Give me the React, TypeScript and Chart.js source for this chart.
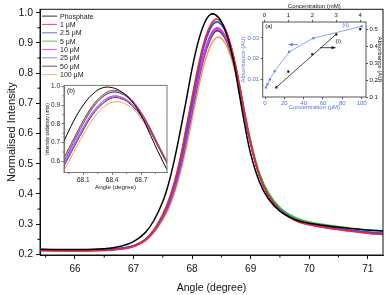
import React, { useEffect, useRef } from 'react';
import { Chart, registerables } from 'chart.js';
Chart.register(...registerables);

const FONT = '"Liberation Sans", Arial, Helvetica, sans-serif';
Chart.defaults.font.family = FONT;

// ---------- main chart data ----------
const angles = [65.4, 66, 66.5, 66.8, 67, 67.2, 67.35, 67.5, 67.6, 67.7, 67.8, 67.9, 68, 68.1, 68.2, 68.3, 68.4, 68.5, 68.6, 68.7, 68.8, 68.9, 69, 69.15, 69.3, 69.5, 69.75, 70, 70.5, 71, 71.26];
const phosphate = [0.217, 0.216, 0.219, 0.228, 0.242, 0.272, 0.313, 0.375, 0.435, 0.515, 0.61, 0.71, 0.815, 0.9, 0.96, 0.992, 0.993, 0.97, 0.922, 0.847, 0.738, 0.628, 0.533, 0.44, 0.385, 0.343, 0.316, 0.303, 0.29, 0.281, 0.278];
const c1uM = [0.212, 0.211, 0.213, 0.218, 0.226, 0.248, 0.281, 0.332, 0.378, 0.44, 0.52, 0.62, 0.72, 0.818, 0.9, 0.953, 0.978, 0.968, 0.93, 0.862, 0.77, 0.665, 0.57, 0.46, 0.395, 0.345, 0.313, 0.298, 0.282, 0.27, 0.266];
const c2_5uM = [0.216, 0.215, 0.217, 0.221, 0.229, 0.249, 0.28, 0.328, 0.371, 0.43, 0.505, 0.6, 0.702, 0.8, 0.885, 0.942, 0.968, 0.96, 0.924, 0.858, 0.766, 0.662, 0.568, 0.46, 0.396, 0.347, 0.316, 0.301, 0.286, 0.274, 0.27];
const c5uM = [0.214, 0.213, 0.215, 0.22, 0.228, 0.25, 0.283, 0.333, 0.378, 0.438, 0.517, 0.615, 0.715, 0.812, 0.893, 0.946, 0.97, 0.962, 0.926, 0.862, 0.772, 0.67, 0.577, 0.47, 0.405, 0.355, 0.323, 0.307, 0.292, 0.28, 0.276];
const c10uM = [0.213, 0.212, 0.214, 0.219, 0.227, 0.247, 0.278, 0.325, 0.366, 0.423, 0.497, 0.588, 0.687, 0.782, 0.864, 0.92, 0.948, 0.942, 0.908, 0.846, 0.76, 0.66, 0.567, 0.46, 0.396, 0.346, 0.314, 0.298, 0.282, 0.27, 0.266];
const c25uM = [0.215, 0.214, 0.216, 0.22, 0.228, 0.247, 0.277, 0.323, 0.363, 0.419, 0.491, 0.58, 0.678, 0.773, 0.856, 0.912, 0.943, 0.938, 0.905, 0.844, 0.759, 0.66, 0.568, 0.462, 0.398, 0.349, 0.317, 0.301, 0.285, 0.273, 0.269];
const c50uM = [0.214, 0.213, 0.215, 0.22, 0.228, 0.247, 0.277, 0.322, 0.361, 0.416, 0.487, 0.575, 0.672, 0.767, 0.85, 0.906, 0.938, 0.933, 0.9, 0.841, 0.757, 0.659, 0.567, 0.462, 0.398, 0.349, 0.317, 0.301, 0.285, 0.273, 0.269];
const c100uM = [0.214, 0.213, 0.215, 0.219, 0.226, 0.244, 0.272, 0.315, 0.352, 0.404, 0.472, 0.553, 0.648, 0.742, 0.825, 0.884, 0.915, 0.914, 0.886, 0.83, 0.75, 0.655, 0.565, 0.462, 0.398, 0.349, 0.317, 0.3, 0.284, 0.272, 0.268];

const seriesLabels = ['Phosphate', '1 μM', '2.5 μM', '5 μM', '10 μM', '25 μM', '50 μM', '100 μM'];
const seriesValues = [phosphate, c1uM, c2_5uM, c5uM, c10uM, c25uM, c50uM, c100uM];
const seriesColors = ['#000000', '#ff1e2a', '#2f4dff', '#22c22a', '#e02ee0', '#7272ea', '#7a1646', '#ff9a52'];

const mainXTicks = [66, 67, 68, 69, 70, 71];
const mainXMinor = [65.5, 66.5, 67.5, 68.5, 69.5, 70.5];
const mainYTicks = [0.2, 0.3, 0.4, 0.5, 0.6, 0.7, 0.8, 0.9, 1.0];
const mainYMinor = [0.25, 0.35, 0.45, 0.55, 0.65, 0.75, 0.85, 0.95];

// ---------- inset (b) ticks ----------
const insetBXTicks = [68.1, 68.4, 68.7];
const insetBXMinor = [67.95, 68.25, 68.55, 68.85];
const insetBYTicks = [0.6, 0.7, 0.8, 0.9, 1.0];
const insetBYMinor = [0.65, 0.75, 0.85, 0.95];

// ---------- inset (a) data ----------
const concUM = [1, 2.5, 5, 10, 25, 50, 100];
const absorbanceUM = [0.0062, 0.0076, 0.01, 0.014, 0.0233, 0.0299, 0.0356];
const concMM = [0.5, 1, 2, 3, 4];
const absorbanceMM = [0.157, 0.25, 0.353, 0.471, 0.502];
const fitMM = [0.5, 3];
const fitAbs = [0.157, 0.472];
const insetAUMTicks = [0, 20, 40, 60, 80, 100];
const insetAMMTicks = [0, 1, 2, 3, 4];
const insetALeftTicks = [0.01, 0.02, 0.03];
const insetARightTicks = [0.1, 0.2, 0.3, 0.4, 0.5];

const BLUE_TEXT = '#4f74e6';
const BLUE_LINE = '#8aa6f6';

const setTicks = (arr: number[]) => (s: any) => {
  s.ticks = arr.map((v) => ({ value: v }));
};

const framePlugin = {
  id: 'frame',
  afterDraw(chart: any, _a: any, opts: any) {
    const { ctx, chartArea } = chart;
    ctx.save();
    ctx.strokeStyle = opts.color || '#000';
    ctx.lineWidth = opts.width || 1;
    ctx.strokeRect(chartArea.left, chartArea.top, chartArea.right - chartArea.left, chartArea.bottom - chartArea.top);
    ctx.restore();
  },
};

const minorPlugin = {
  id: 'minorTicks',
  afterDraw(chart: any, _a: any, opts: any) {
    const { ctx, chartArea } = chart;
    ctx.save();
    ctx.strokeStyle = opts.color || '#000';
    ctx.lineWidth = 1;
    (opts.items || []).forEach((it: any) => {
      const scale = chart.scales[it.axis];
      it.values.forEach((v: number) => {
        const p = scale.getPixelForValue(v);
        ctx.beginPath();
        if (it.axis.startsWith('x')) {
          ctx.moveTo(p, chartArea.bottom);
          ctx.lineTo(p, chartArea.bottom + it.len);
        } else {
          ctx.moveTo(chartArea.left, p);
          ctx.lineTo(chartArea.left - it.len, p);
        }
        ctx.stroke();
      });
    });
    ctx.restore();
  },
};

const legendPlugin = {
  id: 'insideLegend',
  afterDraw(chart: any) {
    const { ctx, chartArea } = chart;
    ctx.save();
    ctx.font = `7px ${FONT}`;
    ctx.textBaseline = 'middle';
    chart.data.datasets.forEach((ds: any, i: number) => {
      const y = chartArea.top + 6.8 + i * 8.35;
      const x = chartArea.left + 2;
      ctx.strokeStyle = ds.borderColor;
      ctx.globalAlpha = 0.75;
      ctx.lineWidth = 1.1;
      ctx.beginPath();
      ctx.moveTo(x, y);
      ctx.lineTo(x + 15, y);
      ctx.stroke();
      ctx.globalAlpha = 1;
      ctx.fillStyle = '#1a1a1a';
      ctx.fillText(ds.label, x + 18, y + 0.5);
    });
    ctx.restore();
  },
};

const textPlugin = {
  id: 'notes',
  afterDraw(chart: any, _a: any, opts: any) {
    const { ctx } = chart;
    ctx.save();
    (opts.items || []).forEach((it: any) => {
      const x = chart.scales[it.xAxis].getPixelForValue(it.x);
      const y = chart.scales[it.yAxis].getPixelForValue(it.y);
      ctx.fillStyle = it.color;
      ctx.strokeStyle = it.color;
      if (it.text) {
        ctx.font = `${it.size || 6}px ${FONT}`;
        ctx.textBaseline = 'middle';
        ctx.textAlign = 'left';
        ctx.fillText(it.text, x, y);
      } else {
        const x2 = chart.scales[it.xAxis].getPixelForValue(it.x2);
        ctx.lineWidth = 0.8;
        ctx.beginPath();
        ctx.moveTo(x, y);
        ctx.lineTo(x2, y);
        ctx.stroke();
        const dir = x2 > x ? 1 : -1;
        ctx.beginPath();
        ctx.moveTo(x2, y);
        ctx.lineTo(x2 - dir * 4, y - 1.6);
        ctx.lineTo(x2 - dir * 4, y + 1.6);
        ctx.closePath();
        ctx.fill();
      }
    });
    ctx.restore();
  },
};

const labelPlugin = {
  id: 'cornerLabel',
  afterDraw(chart: any, _a: any, opts: any) {
    if (!opts.text) return;
    const { ctx, chartArea } = chart;
    ctx.save();
    ctx.font = `${opts.size}px ${FONT}`;
    ctx.fillStyle = '#111';
    ctx.textBaseline = 'top';
    ctx.fillText(opts.text, chartArea.left + opts.dx, chartArea.top + opts.dy);
    ctx.restore();
  },
};

function MainChart() {
  const ref = useRef<HTMLCanvasElement>(null);
  useEffect(() => {
    const datasets = seriesValues.map((vals, i) => ({
      label: seriesLabels[i],
      data: angles.map((x, j) => ({ x, y: vals[j] })),
      borderColor: seriesColors[i],
      borderWidth: 1.5,
      pointRadius: 0,
      tension: 0.4,
      fill: false,
    }));
    const chart = new Chart(ref.current!, {
      type: 'line',
      data: { datasets },
      plugins: [framePlugin, minorPlugin, legendPlugin],
      options: {
        responsive: false,
        animation: false,
        events: [],
        layout: { padding: { top: 2.5, right: 4, left: 0, bottom: 0 } },
        plugins: {
          legend: { display: false },
          tooltip: { enabled: false },
          frame: { color: '#111', width: 1 },
          minorTicks: {
            items: [
              { axis: 'x', values: mainXMinor, len: 2.5 },
              { axis: 'y', values: mainYMinor, len: 2.5 },
            ],
          },
        } as any,
        scales: {
          x: {
            type: 'linear',
            min: 65.403,
            max: 71.26,
            afterBuildTicks: setTicks(mainXTicks),
            afterFit: (s: any) => { s.height = 40; },
            ticks: { autoSkip: false, maxRotation: 0, font: { size: 10 }, color: '#111', padding: 4, callback: (v: any) => String(v) },
            grid: { drawOnChartArea: false, drawTicks: true, tickLength: 4, tickColor: '#111' },
            border: { display: true, color: '#111' },
            title: { display: true, text: 'Angle (degree)', font: { size: 10.5 }, color: '#111', padding: { top: 0, bottom: 1 } },
          },
          y: {
            type: 'linear',
            min: 0.198,
            max: 1.011,
            afterBuildTicks: setTicks(mainYTicks),
            afterFit: (s: any) => { s.width = 40; },
            ticks: { autoSkip: false, font: { size: 10.5 }, color: '#111', padding: 3, callback: (v: any) => Number(v).toFixed(1) },
            grid: { drawOnChartArea: false, drawTicks: true, tickLength: 4, tickColor: '#111' },
            border: { display: true, color: '#111' },
            title: { display: true, text: 'Normalised Intensity', font: { size: 11 }, color: '#111', padding: { top: 5, bottom: 0 } },
          },
        },
      },
    } as any);
    return () => chart.destroy();
  }, []);
  return <canvas ref={ref} width={387} height={295} style={{ position: 'absolute', left: 0, top: 0, width: 387, height: 295 }} />;
}

function InsetB() {
  const ref = useRef<HTMLCanvasElement>(null);
  useEffect(() => {
    const datasets = seriesValues.map((vals, i) => ({
      label: seriesLabels[i],
      data: angles.map((x, j) => ({ x, y: vals[j] })),
      borderColor: seriesColors[i],
      borderWidth: 1,
      pointRadius: 0,
      tension: 0.4,
      fill: false,
    }));
    const chart = new Chart(ref.current!, {
      type: 'line',
      data: { datasets },
      plugins: [framePlugin, minorPlugin, labelPlugin],
      options: {
        responsive: false,
        animation: false,
        events: [],
        layout: { padding: { top: 4, right: 5, left: 0, bottom: 0 } },
        plugins: {
          legend: { display: false },
          tooltip: { enabled: false },
          frame: { color: '#777', width: 1 },
          minorTicks: {
            color: '#777',
            items: [
              { axis: 'x', values: insetBXMinor, len: 1.5 },
              { axis: 'y', values: insetBYMinor, len: 1.5 },
            ],
          },
          cornerLabel: { text: '(b)', size: 6.5, dx: 3, dy: 3 },
        } as any,
        scales: {
          x: {
            type: 'linear',
            min: 67.9,
            max: 68.97,
            afterBuildTicks: setTicks(insetBXTicks),
            afterFit: (s: any) => { s.height = 22.5; },
            ticks: { autoSkip: false, maxRotation: 0, font: { size: 6.5 }, color: '#222', padding: 1.5, callback: (v: any) => Number(v).toFixed(1) },
            grid: { drawOnChartArea: false, drawTicks: true, tickLength: 2.5, tickColor: '#777' },
            border: { display: true, color: '#777' },
            title: { display: true, text: 'Angle (degree)', font: { size: 6.2 }, color: '#222', padding: { top: 0, bottom: 4 } },
          },
          y: {
            type: 'linear',
            min: 0.541,
            max: 1.005,
            afterBuildTicks: setTicks(insetBYTicks),
            afterFit: (s: any) => { s.width = 24; },
            ticks: { autoSkip: false, font: { size: 6.5 }, color: '#222', padding: 1.5, callback: (v: any) => Number(v).toFixed(1) },
            grid: { drawOnChartArea: false, drawTicks: true, tickLength: 2.5, tickColor: '#777' },
            border: { display: true, color: '#777' },
            title: { display: true, text: 'Intensity (arbitrary units)', font: { size: 4.8 }, color: '#222', padding: { top: 5, bottom: 0 } },
          },
        },
      },
    } as any);
    return () => chart.destroy();
  }, []);
  return <canvas ref={ref} width={132} height={115} style={{ position: 'absolute', left: 40, top: 80, width: 132, height: 115 }} />;
}

function InsetA() {
  const ref = useRef<HTMLCanvasElement>(null);
  useEffect(() => {
    const chart = new Chart(ref.current!, {
      type: 'line',
      data: {
        datasets: [
          {
            label: 'ii',
            data: concUM.map((x, i) => ({ x, y: absorbanceUM[i] })),
            xAxisID: 'x',
            yAxisID: 'y',
            borderColor: BLUE_LINE,
            backgroundColor: '#5f82ee',
            borderWidth: 1,
            pointStyle: 'rect',
            pointRadius: 1.6,
            pointBorderWidth: 0,
            tension: 0,
          },
          {
            label: 'fit',
            data: fitMM.map((x, i) => ({ x, y: fitAbs[i] })),
            xAxisID: 'x2',
            yAxisID: 'y2',
            borderColor: '#333',
            borderWidth: 0.9,
            pointRadius: 0,
          },
          {
            label: 'i',
            data: concMM.map((x, i) => ({ x, y: absorbanceMM[i] })),
            xAxisID: 'x2',
            yAxisID: 'y2',
            showLine: false,
            backgroundColor: '#111',
            borderColor: '#111',
            pointStyle: 'rect',
            pointRadius: 1.5,
            pointBorderWidth: 0,
          },
        ],
      },
      plugins: [framePlugin, textPlugin],
      options: {
        responsive: false,
        animation: false,
        events: [],
        layout: { padding: 0 },
        plugins: {
          legend: { display: false },
          tooltip: { enabled: false },
          frame: { color: '#555', width: 1 },
          notes: {
            items: [
              { text: '(a)', xAxis: 'x', yAxis: 'y', x: 0.2, y: 0.0355, color: '#111', size: 6 },
              { text: '(ii)', xAxis: 'x', yAxis: 'y', x: 80, y: 0.0362, color: BLUE_TEXT, size: 6 },
              { text: '(i)', xAxis: 'x2', yAxis: 'y2', x: 2.97, y: 0.43, color: '#111', size: 6 },
              { xAxis: 'x', yAxis: 'y', x: 34, x2: 24.5, y: 0.0268, color: BLUE_TEXT },
              { xAxis: 'x2', yAxis: 'y2', x: 2.32, x2: 2.97, y: 0.392, color: '#111' },
            ],
          },
        } as any,
        scales: {
          x: {
            type: 'linear',
            position: 'bottom',
            min: -2.4,
            max: 104.5,
            afterBuildTicks: setTicks(insetAUMTicks),
            afterFit: (s: any) => { s.height = 15; },
            ticks: { autoSkip: false, maxRotation: 0, font: { size: 6 }, color: BLUE_TEXT, padding: 1 },
            grid: { drawOnChartArea: false, drawTicks: true, tickLength: 2, tickColor: '#555' },
            border: { display: false },
            title: { display: true, text: 'Concentration (μM)', font: { size: 6 }, color: BLUE_TEXT, padding: { top: 0, bottom: 1 } },
          },
          x2: {
            type: 'linear',
            position: 'top',
            min: -0.07,
            max: 4.24,
            afterBuildTicks: setTicks(insetAMMTicks),
            afterFit: (s: any) => { s.height = 22; },
            ticks: { autoSkip: false, maxRotation: 0, font: { size: 6 }, color: '#111', padding: 1 },
            grid: { drawOnChartArea: false, drawTicks: true, tickLength: 2, tickColor: '#555' },
            border: { display: false },
            title: { display: true, text: 'Concentration (mM)', font: { size: 6 }, color: '#111', padding: { top: 2.4, bottom: 0 } },
          },
          y: {
            type: 'linear',
            position: 'left',
            min: 0.0015,
            max: 0.0377,
            afterBuildTicks: setTicks(insetALeftTicks),
            afterFit: (s: any) => { s.width = 26.7; },
            ticks: { autoSkip: false, font: { size: 6 }, color: BLUE_TEXT, padding: 1.5, callback: (v: any) => Number(v).toFixed(2) },
            grid: { drawOnChartArea: false, drawTicks: true, tickLength: 2, tickColor: '#555' },
            border: { display: false },
            title: { display: true, text: 'Absorbance (AU)', font: { size: 6 }, color: BLUE_TEXT, padding: { top: 3.7, bottom: 0 } },
          },
          y2: {
            type: 'linear',
            position: 'right',
            min: 0.1,
            max: 0.544,
            afterBuildTicks: setTicks(insetARightTicks),
            afterFit: (s: any) => { s.width = 21; },
            ticks: { autoSkip: false, font: { size: 6 }, color: '#111', padding: 1.5, callback: (v: any) => Number(v).toFixed(1) },
            grid: { drawOnChartArea: false, drawTicks: true, tickLength: 2, tickColor: '#555' },
            border: { display: false },
            title: { display: true, text: 'Absorbance (AU)', font: { size: 6 }, color: '#111', padding: { top: 3.4, bottom: 0 } },
          },
        },
      },
    } as any);
    return () => chart.destroy();
  }, []);
  return <canvas ref={ref} width={151} height={112} style={{ position: 'absolute', left: 236, top: 0, width: 151, height: 112 }} />;
}

export default function App() {
  useEffect(() => {
    document.body.style.margin = '0';
    document.body.style.background = '#fff';
  }, []);
  return (
    <div style={{ position: 'relative', width: 387, height: 295, background: '#fff', overflow: 'hidden' }}>
      <MainChart />
      <InsetB />
      <InsetA />
    </div>
  );
}
